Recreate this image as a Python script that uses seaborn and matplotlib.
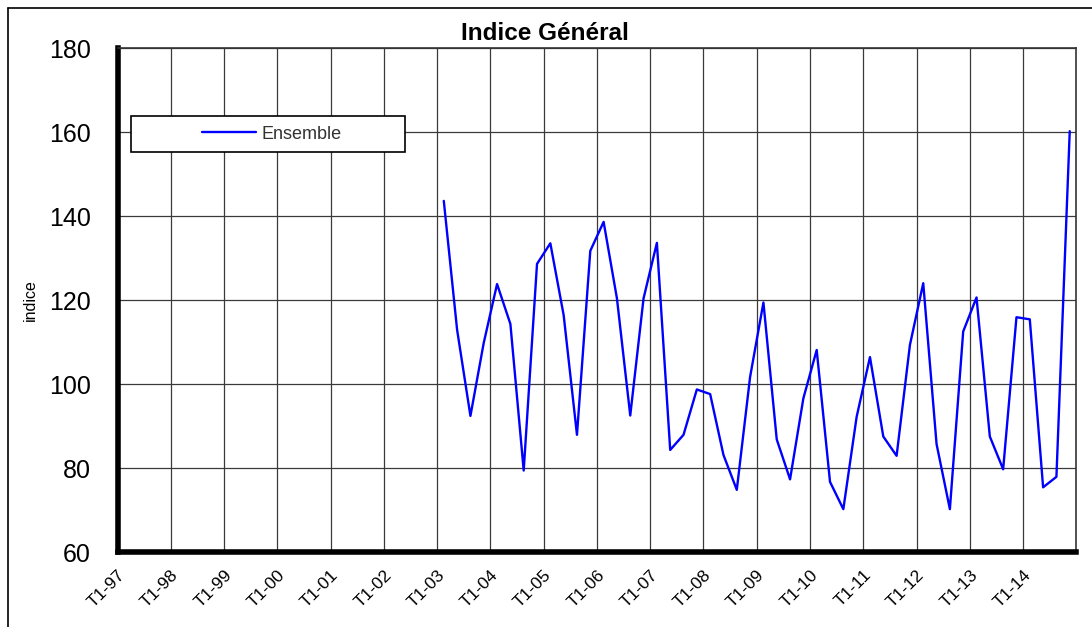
import pandas as pd
import numpy as np
import seaborn as sns
import matplotlib.pyplot as plt
from matplotlib.lines import Line2D
from matplotlib.patches import Rectangle

# Quarterly categories T1-97 .. T4-14
years = ["97", "98", "99", "00", "01", "02", "03", "04", "05",
         "06", "07", "08", "09", "10", "11", "12", "13", "14"]
quarters = [f"T{q}-{y}" for y in years for q in range(1, 5)]

# Series starts at T1-03
start_label = "T1-03"
ensemble = [143.6, 112.9, 92.4, 109.8,
            123.8, 114.3, 79.4, 128.6,
            133.5, 116.4, 87.9, 131.7,
            138.6, 120.4, 92.5, 120.4,
            133.6, 84.3, 87.9, 98.7,
            97.6, 83.1, 74.8, 101.7,
            119.4, 86.8, 77.3, 96.6,
            108.1, 76.7, 70.2, 92.2,
            106.4, 87.5, 82.9, 109.3,
            124.0, 85.7, 70.2, 112.5,
            120.6, 87.5, 79.7, 115.9,
            115.4, 75.4, 77.9, 160.2]

y_ticks = [60, 80, 100, 120, 140, 160, 180]

start = quarters.index(start_label)
df = pd.DataFrame({
    "trimestre": quarters[start:start + len(ensemble)],
    "pos": np.arange(start, start + len(ensemble)),
    "indice": ensemble,
})

sns.set_style("white")
plt.rcParams["font.family"] = ["Liberation Sans", "DejaVu Sans"]
plt.rcParams["text.color"] = "black"
plt.rcParams["xtick.color"] = "black"
plt.rcParams["ytick.color"] = "black"
plt.rcParams["axes.labelcolor"] = "black"

fig = plt.figure(figsize=(10.92, 6.27), dpi=100)
ax = fig.add_axes([117.5 / 1092, 75 / 627, 958.9 / 1092, 504 / 627])

sns.lineplot(data=df, x="pos", y="indice", ax=ax, color="#0000ff",
             linewidth=1.7, label="Ensemble", zorder=5)

ax.set_xlim(-0.5, len(quarters) - 0.5)
ax.set_ylim(60, 180)
ax.set_yticks(y_ticks)
ax.set_yticklabels([str(v) for v in y_ticks], fontsize=18)

xt = [i - 0.5 for i in range(0, len(quarters), 4)]
ax.set_xticks(xt)
ax.set_xticklabels(quarters[::4], rotation=45, ha="right",
                   rotation_mode="anchor", fontsize=12.5)

ax.grid(True, color="#3a3a3a", linewidth=0.9)
ax.set_axisbelow(True)
ax.set_xlabel("")
ax.set_ylabel("indice", fontsize=11.5, labelpad=8)

fig.text(545 / 1092, 1 - 34 / 627, "Indice Général", fontsize=17.5,
         fontweight="bold", ha="center", va="center", color="black")

for side in ["left", "bottom"]:
    ax.spines[side].set_linewidth(4)
    ax.spines[side].set_color("black")
for side in ["top", "right"]:
    ax.spines[side].set_linewidth(1.2)
    ax.spines[side].set_color("#333333")

ax.tick_params(axis="y", direction="in", length=4, width=3, pad=19)
ax.tick_params(axis="x", direction="in", length=4, width=3, pad=11)

# legend box
ax.add_patch(Rectangle((0.01377, 0.793), 0.286, 0.072, transform=ax.transAxes,
                       facecolor="white", edgecolor="black", linewidth=1.2,
                       zorder=3))
leg = ax.legend(loc="center", bbox_to_anchor=(0.161, 0.829), frameon=False,
                fontsize=13, handlelength=3.0, handletextpad=0.3)
leg.set_zorder(6)
for t in leg.get_texts():
    t.set_color("#333333")

# outer chart border (left and top visible)
fig.add_artist(Line2D([7.5 / 1092, 7.5 / 1092], [0, 1 - 8 / 627],
                      transform=fig.transFigure, color="black", linewidth=1.2))
fig.add_artist(Line2D([7.5 / 1092, 1], [1 - 8 / 627, 1 - 8 / 627],
                      transform=fig.transFigure, color="black", linewidth=1.2))

fig.savefig("out.png", dpi=100)
